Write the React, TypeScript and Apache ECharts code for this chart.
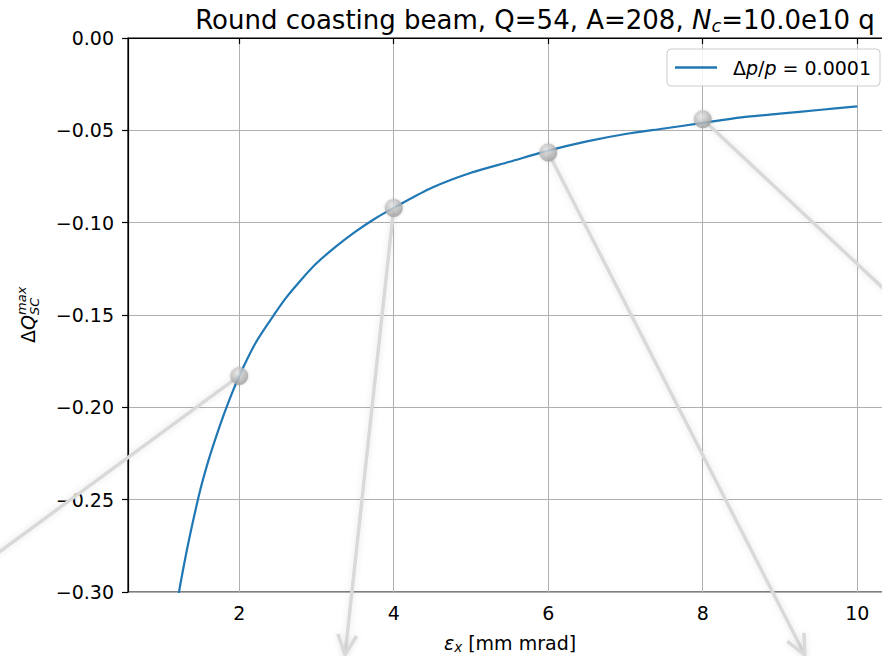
import React, { useEffect, useRef } from "react";
import * as echarts from "echarts";

// ---- data ----
const EMITTANCE = [1.0, 1.1, 1.2, 1.3, 1.4, 1.5, 1.6, 1.7, 1.8, 1.9, 2.0, 2.2, 2.4, 2.6, 2.8, 3.0, 3.25, 3.5, 3.75, 4.0, 4.5, 5.0, 5.5, 6.0, 6.5, 7.0, 7.5, 8.0, 8.5, 9.0, 9.5, 10.0];
const DQ_MAX = [-0.366, -0.333, -0.305, -0.282, -0.262, -0.244, -0.229, -0.216, -0.204, -0.193, -0.183, -0.166, -0.153, -0.141, -0.131, -0.122, -0.113, -0.105, -0.098, -0.092, -0.081, -0.073, -0.067, -0.061, -0.056, -0.052, -0.049, -0.046, -0.043, -0.041, -0.039, -0.037];

const MARKER_X = [2, 4, 6, 8];
const MARKER_Y = [-0.183, -0.092, -0.062, -0.044];
// arrow tips (data coordinates, partly outside the axes)
const ARROW_TIP_X = [-3.02, 3.37, 9.32, 11.88];
const ARROW_TIP_Y = [-0.337, -0.334, -0.334, -0.196];

const X_TICKS = [2, 4, 6, 8, 10];
const X_MIN = 0.56;
const X_MAX = 10.45;
const Y_MIN = -0.3;
const Y_MAX = 0.0;
const Y_STEP = 0.05;

const SERIES_NAME = "Δp/p = 0.0001";
const FONT = "DejaVu Sans";

export default function App() {
  const ref = useRef<HTMLDivElement>(null);

  useEffect(() => {
    const chart = echarts.init(ref.current as HTMLDivElement, null, { renderer: "svg" });

    const lineData = EMITTANCE.map((x, i) => [x, DQ_MAX[i]]);
    const markerData = MARKER_X.map((x, i) => [x, MARKER_Y[i]]);
    const arrowData = MARKER_X.map((x, i) => [x, MARKER_Y[i], ARROW_TIP_X[i], ARROW_TIP_Y[i]]);

    const arrowStyle = {
      stroke: "#d9d9d9",
      lineWidth: 3.5,
      fill: null,
      shadowBlur: 6,
      shadowColor: "rgba(0,0,0,0.10)",
    };

    const option: any = {
      animation: false,
      backgroundColor: "#ffffff",
      title: {
        text: "Round coasting beam, Q=54, A=208, {i|N}{s|c}=10.0e10 q",
        left: 530,
        textAlign: "center",
        top: 1,
        textStyle: {
          fontFamily: FONT,
          fontSize: 26,
          fontWeight: "normal",
          color: "#000",
          rich: {
            i: { fontFamily: FONT, fontSize: 26, fontStyle: "italic", color: "#000" },
            s: { fontFamily: FONT, fontSize: 18, fontStyle: "italic", color: "#000", padding: [10, 0, 0, 0] },
          },
        },
      },
      grid: {
        left: 128,
        top: 38,
        right: 8,
        bottom: 64,
        outerBoundsMode: "none",
        containLabel: false,
        show: true,
        borderColor: "#000",
        borderWidth: 1.2,
        backgroundColor: "transparent",
      },
      legend: {
        data: [SERIES_NAME],
        left: 667,
        top: 49,
        padding: [9, 9, 9, 8],
        itemWidth: 42,
        itemHeight: 2.5,
        icon: "rect",
        backgroundColor: "rgba(255,255,255,0.85)",
        borderColor: "#cccccc",
        borderWidth: 1,
        borderRadius: 4,
        formatter: () => "{d|Δ}{i|p}{d|/}{i|p}{d| = 0.0001}",
        textStyle: {
          fontFamily: FONT,
          fontSize: 19,
          color: "#000",
          padding: [0, 0, 0, 11],
          rich: {
            d: { fontFamily: FONT, fontSize: 19, color: "#000" },
            i: { fontFamily: FONT, fontSize: 19, color: "#000", fontStyle: "italic" },
          },
        },
      },
      xAxis: {
        type: "value",
        min: X_MIN,
        max: X_MAX,
        name: "{e|ε}{s|x} [mm mrad]",
        nameLocation: "middle",
        nameGap: 40,
        nameTextStyle: {
          fontFamily: FONT,
          fontSize: 19,
          color: "#000",
          rich: {
            e: { fontFamily: FONT, fontSize: 19, fontStyle: "italic", color: "#000" },
            s: { fontFamily: FONT, fontSize: 13.5, fontStyle: "italic", color: "#000", padding: [8, 0, 0, 0] },
          },
        },
        axisLine: { show: true, lineStyle: { color: "#000", width: 1.2 } },
        axisTick: { show: true, inside: false, length: 6, customValues: X_TICKS, lineStyle: { color: "#000", width: 1.2 } },
        axisLabel: {
          customValues: X_TICKS,
          margin: 11,
          fontFamily: FONT,
          fontSize: 19,
          color: "#000",
          formatter: (v: number) => String(v),
        },
        splitLine: { show: true, lineStyle: { color: "#b0b0b0", width: 1 } },
      },
      yAxis: {
        type: "value",
        min: Y_MIN,
        max: Y_MAX,
        interval: Y_STEP,
        axisLine: { show: true, lineStyle: { color: "#000", width: 1.2 } },
        axisTick: { show: true, inside: false, length: 6, lineStyle: { color: "#000", width: 1.2 } },
        axisLabel: {
          margin: 14,
          fontFamily: FONT,
          fontSize: 19,
          color: "#000",
          formatter: (v: number) => v.toFixed(2).replace("-", "\u2212"),
        },
        splitLine: { show: true, lineStyle: { color: "#b0b0b0", width: 1 } },
      },
      graphic: [
        {
          type: "group",
          x: 28,
          y: 315,
          rotation: Math.PI / 2,
          children: [
            {
              type: "text",
              x: -28,
              y: 0,
              style: {
                text: "{a|Δ}{b|Q}",
                align: "left",
                verticalAlign: "middle",
                rich: {
                  a: { fontFamily: FONT, fontSize: 19, fill: "#000" },
                  b: { fontFamily: FONT, fontSize: 19, fontStyle: "italic", fill: "#000" },
                },
              },
            },
            {
              type: "text",
              x: 0,
              y: -7,
              style: { text: "max", font: `italic 13px ${FONT}`, fill: "#000", align: "left", verticalAlign: "middle" },
            },
            {
              type: "text",
              x: 0,
              y: 6,
              style: { text: "SC", font: `italic 13px ${FONT}`, fill: "#000", align: "left", verticalAlign: "middle" },
            },
          ],
        },
      ],
      series: [
        {
          type: "custom",
          name: "arrows",
          z: 2,
          clip: false,
          encode: { x: [0, 2], y: [1, 3] },
          data: arrowData,
          renderItem: (_params: any, api: any) => {
            const s = api.coord([api.value(0), api.value(1)]);
            const e = api.coord([api.value(2), api.value(3)]);
            const ang = Math.atan2(e[1] - s[1], e[0] - s[0]);
            const L = 22;
            const a = 0.44;
            const p1 = [e[0] - L * Math.cos(ang - a), e[1] - L * Math.sin(ang - a)];
            const p2 = [e[0] - L * Math.cos(ang + a), e[1] - L * Math.sin(ang + a)];
            return {
              type: "group",
              children: [
                { type: "line", shape: { x1: s[0], y1: s[1], x2: e[0], y2: e[1] }, style: arrowStyle },
                { type: "polyline", shape: { points: [p1, e, p2] }, style: arrowStyle },
              ],
            };
          },
        },
        {
          type: "line",
          name: SERIES_NAME,
          z: 3,
          data: lineData,
          symbol: "none",
          showSymbol: false,
          smooth: 0.3,
          clip: true,
          lineStyle: { color: "#1f77b4", width: 2.2 },
          itemStyle: { color: "#1f77b4" },
        },
        {
          type: "scatter",
          name: "markers",
          z: 4,
          data: markerData,
          symbol: "circle",
          symbolSize: 18,
          itemStyle: {
            color: new echarts.graphic.RadialGradient(0.4, 0.35, 0.7, [
              { offset: 0, color: "#e8e8e8" },
              { offset: 1, color: "#999999" },
            ]),
            shadowBlur: 3,
            shadowColor: "rgba(0,0,0,0.2)",
          },
        },
      ],
    };

    chart.setOption(option);
    return () => chart.dispose();
  }, []);

  return (
    <div style={{ position: "fixed", left: 0, top: 0, width: 882, height: 656, overflow: "hidden", background: "#fff" }}>
      <div ref={ref} style={{ position: "absolute", left: 0, top: 0, width: 900, height: 656 }} />
    </div>
  );
}
